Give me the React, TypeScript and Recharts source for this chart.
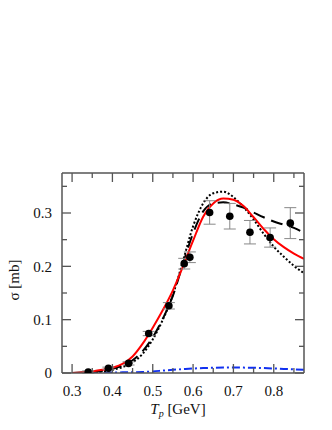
import { ComposedChart, Line, Scatter, XAxis, YAxis, ErrorBar } from "recharts"

// cross-section curves, sampled at these energies (GeV)
const tp = [0.3, 0.325, 0.35, 0.375, 0.4, 0.425, 0.45, 0.475, 0.5, 0.525, 0.55, 0.575, 0.6, 0.625, 0.65, 0.675, 0.7, 0.725, 0.75, 0.775, 0.8, 0.825, 0.85, 0.875]

const solidRed = [0, 0.001, 0.003, 0.006, 0.01, 0.017, 0.031, 0.055, 0.085, 0.118, 0.155, 0.2, 0.248, 0.293, 0.318, 0.327, 0.325, 0.313, 0.292, 0.27, 0.251, 0.236, 0.224, 0.214]
const dotted = [0, 0, 0.001, 0.003, 0.006, 0.011, 0.02, 0.036, 0.063, 0.1, 0.147, 0.21, 0.275, 0.318, 0.337, 0.34, 0.33, 0.311, 0.288, 0.261, 0.237, 0.218, 0.201, 0.187]
const dashed = [0, 0.001, 0.002, 0.004, 0.008, 0.014, 0.024, 0.041, 0.067, 0.102, 0.145, 0.205, 0.262, 0.303, 0.318, 0.32, 0.316, 0.31, 0.301, 0.292, 0.284, 0.278, 0.272, 0.263]
const dashDot = [0, 0.0002, 0.0005, 0.0008, 0.001, 0.0012, 0.0015, 0.002, 0.003, 0.0045, 0.006, 0.0073, 0.0085, 0.0092, 0.0098, 0.0101, 0.0102, 0.0101, 0.0098, 0.0092, 0.0085, 0.0077, 0.0068, 0.006]

// measured points
const expT = [0.34, 0.39, 0.44, 0.49, 0.54, 0.578, 0.592, 0.641, 0.691, 0.741, 0.791, 0.841]
const expSigma = [0.002, 0.009, 0.018, 0.074, 0.126, 0.205, 0.217, 0.301, 0.294, 0.264, 0.254, 0.281]
const expErr = [0.002, 0.002, 0.003, 0.004, 0.006, 0.01, 0.01, 0.022, 0.024, 0.022, 0.018, 0.029]

const xMajor = [0.3, 0.4, 0.5, 0.6, 0.7, 0.8]
const xMinor = [0.35, 0.45, 0.55, 0.65, 0.75, 0.85]
const yMajor = [0, 0.1, 0.2, 0.3]
const yMinor = [0.05, 0.15, 0.25, 0.35]

const curve = (vals: number[]) => tp.map((x, i) => ({ x, y: vals[i] }))
const points = expT.map((x, i) => ({ x, y: expSigma[i], err: expErr[i] }))

const font = "Liberation Serif"
const frame = "#555"

const fmt = (v: number) => (v === 0 ? "0" : String(v))

function Tick(props: any) {
  const { x, y, payload, side } = props
  const v = payload.value
  const major = side === "bottom" || side === "top" ? xMajor.some((m) => Math.abs(m - v) < 1e-6) : yMajor.some((m) => Math.abs(m - v) < 1e-6)
  const len = major ? 9 : 5
  let line
  if (side === "bottom") line = <line x1={x} x2={x} y1={y} y2={y - len} stroke={frame} strokeWidth={1.3} />
  else if (side === "top") line = <line x1={x} x2={x} y1={y} y2={y + len} stroke={frame} strokeWidth={1.3} />
  else if (side === "left") line = <line x1={x} x2={x + len} y1={y} y2={y} stroke={frame} strokeWidth={1.3} />
  else line = <line x1={x} x2={x - len} y1={y} y2={y} stroke={frame} strokeWidth={1.3} />
  return (
    <g>
      {line}
      {major && side === "bottom" && (
        <text x={x} y={y + 23} textAnchor="middle" fontFamily={font} fontSize={15} fill="#111">
          {fmt(v)}
        </text>
      )}
      {major && side === "left" && (
        <text x={x - 10} y={y} dy="0.35em" textAnchor="end" fontFamily={font} fontSize={15} fill="#111">
          {fmt(v)}
        </text>
      )}
    </g>
  )
}

export default function App() {
  return (
    <div style={{ position: "absolute", left: 0, top: 0, width: 332, height: 430, background: "#fff" }}>
      <ComposedChart width={332} height={430} margin={{ top: 172, right: 27, bottom: 56, left: 61 }}>
        <XAxis
          xAxisId="b"
          dataKey="x"
          type="number"
          domain={[0.275, 0.875]}
          ticks={[...xMajor, ...xMinor]}
          interval={0}
          height={1}
          tickSize={0}
          tickMargin={0}
          tickLine={false}
          axisLine={{ stroke: frame, strokeWidth: 1.5 }}
          tick={<Tick side="bottom" />}
          allowDataOverflow
          label={{
            content: (p: any) => (
              <text x={p.viewBox.x + p.viewBox.width / 2 - 5} y={p.viewBox.y + 41} textAnchor="middle" fontFamily={font} fontSize={15} fill="#111">
                <tspan fontStyle="italic">T</tspan>
                <tspan fontStyle="italic" fontSize={10} dy={3}>p</tspan>
                <tspan dy={-3}> [GeV]</tspan>
              </text>
            ),
          }}
        />
        <XAxis
          xAxisId="t"
          orientation="top"
          dataKey="x"
          type="number"
          domain={[0.275, 0.875]}
          ticks={[...xMajor, ...xMinor]}
          interval={0}
          height={1}
          tickSize={0}
          tickMargin={0}
          tickLine={false}
          axisLine={{ stroke: frame, strokeWidth: 1.5 }}
          tick={<Tick side="top" />}
          allowDataOverflow
        />
        <YAxis
          yAxisId="l"
          type="number"
          domain={[0, 0.375]}
          ticks={[...yMajor, ...yMinor]}
          interval={0}
          width={1}
          tickSize={0}
          tickMargin={0}
          tickLine={false}
          axisLine={{ stroke: frame, strokeWidth: 1.5 }}
          tick={<Tick side="left" />}
          allowDataOverflow
          label={{
            content: (p: any) => {
              const cx = p.viewBox.x - 47
              const cy = p.viewBox.y + p.viewBox.height / 2 + 7
              return (
                <text x={cx} y={cy} transform={`rotate(-90 ${cx} ${cy})`} textAnchor="middle" dy="0.35em" fontFamily={font} fontSize={15} fill="#111">
                  σ [mb]
                </text>
              )
            },
          }}
        />
        <YAxis
          yAxisId="r"
          orientation="right"
          type="number"
          domain={[0, 0.375]}
          ticks={[...yMajor, ...yMinor]}
          interval={0}
          width={1}
          tickSize={0}
          tickMargin={0}
          tickLine={false}
          axisLine={{ stroke: frame, strokeWidth: 1.5 }}
          tick={<Tick side="right" />}
          allowDataOverflow
        />
        <Line xAxisId="b" yAxisId="l" data={curve(dashDot)} dataKey="y" type="monotone" stroke="#1030f0" strokeWidth={2} strokeDasharray="8 3 2 3" dot={false} isAnimationActive={false} />
        <Line xAxisId="b" yAxisId="l" data={curve(dotted)} dataKey="y" type="monotone" stroke="#000" strokeWidth={2} strokeDasharray="2 2" dot={false} isAnimationActive={false} />
        <Line xAxisId="b" yAxisId="l" data={curve(dashed)} dataKey="y" type="monotone" stroke="#000" strokeWidth={2} strokeDasharray="12 7" dot={false} isAnimationActive={false} />
        <Line xAxisId="b" yAxisId="l" data={curve(solidRed)} dataKey="y" type="monotone" stroke="#f00" strokeWidth={2} dot={false} isAnimationActive={false} />
        <Scatter
          xAxisId="b"
          yAxisId="l"
          data={points}
          dataKey="y"
          isAnimationActive={false}
          shape={(p: any) => <circle cx={p.cx} cy={p.cy} r={3.8} fill="#000" />}
        >
          <ErrorBar dataKey="err" direction="y" width={6} stroke="#888" strokeWidth={1} />
        </Scatter>
      </ComposedChart>
    </div>
  )
}
